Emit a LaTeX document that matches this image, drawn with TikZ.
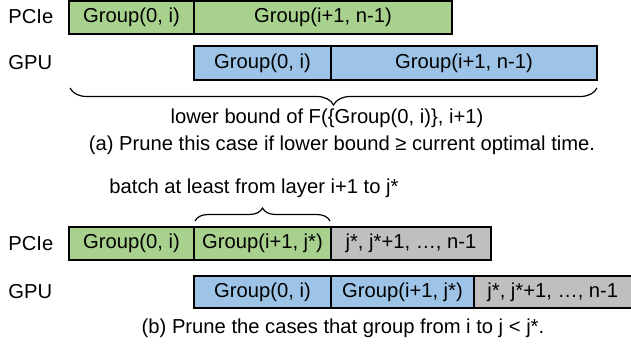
\documentclass[tikz,border=0pt]{standalone}
\usepackage{fontspec}
\setmainfont{Liberation Sans}
\usetikzlibrary{decorations.pathreplacing}
\definecolor{cgreen}{HTML}{A9D18E}
\definecolor{cblue}{HTML}{9DC3E6}
\definecolor{cgray}{HTML}{BFBFBF}
\begin{document}
\begin{tikzpicture}[x=0.5pt,y=-0.5pt,
  blk/.style={draw=black,line width=1.2pt},
  txt/.style={font=\fontsize{10.1}{12}\selectfont,inner sep=0pt},
  brc/.style={decorate,decoration={brace,amplitude=#1},line width=0.6pt}]
\useasboundingbox (0,0) rectangle (631,347);
\begin{scope}
\clip (0,0) rectangle (631,347);
% (a) PCIe
\draw[blk,fill=cgreen] (69,1) rectangle node[txt](a1){Group(0, i)} (194,34);
\draw[blk,fill=cgreen] (194,1) rectangle node[txt](a2){Group(i+1, n-1)} (452,34);
% (a) GPU
\draw[blk,fill=cblue] (194,46) rectangle node[txt](a3){Group(0, i)} (331,80);
\draw[blk,fill=cblue] (331,46) rectangle node[txt](a4){Group(i+1, n-1)} (597,80);
% (b) PCIe
\draw[blk,fill=cgreen] (69,227) rectangle node[txt](b1){Group(0, i)} (194,260);
\draw[blk,fill=cgreen] (194,227) rectangle node[txt](b2){Group(i+1, j*)} (331,260);
\draw[blk,fill=cgray] (331,227) rectangle node[txt](b3){j*, j*+1, …, n-1} (491,260);
% (b) GPU
\draw[blk,fill=cblue] (194,276) rectangle node[txt](b4){Group(0, i)} (331,308);
\draw[blk,fill=cblue] (331,276) rectangle node[txt](b5){Group(i+1, j*)} (474,308);
\draw[blk,fill=cgray] (474,276) rectangle (640,308);
\node[txt,anchor=west] (b6) at (487,292) {j*, j*+1, …, n-1};
\end{scope}
% labels
\node[txt,anchor=west] (l1) at (8,17) {PCIe};
\node[txt,anchor=west] (l2) at (8,63) {GPU};
\node[txt,anchor=west] (l3) at (8,244) {PCIe};
\node[txt,anchor=west] (l4) at (8,292) {GPU};
% braces
\coordinate (ba1) at (70,88);
\coordinate (ba2) at (597,88);
\draw[brc=8.5pt] (ba2) -- (ba1);
\node[txt] (lb) at (327,118) {lower bound of F(\{Group(0, i)\}, i+1)};
\node[txt] (ca) at (342,145) {(a) Prune this case if lower bound ≥ current optimal time.};
\coordinate (bb1) at (195,221);
\coordinate (bb2) at (330,221);
\draw[brc=6.5pt] (bb1) -- (bb2);
\node[txt] (bt) at (254,188) {batch at least from layer i+1 to j*};
\node[txt] (cb) at (343,328) {(b) Prune the cases that group from i to j < j*.};
\end{tikzpicture}
\end{document}
